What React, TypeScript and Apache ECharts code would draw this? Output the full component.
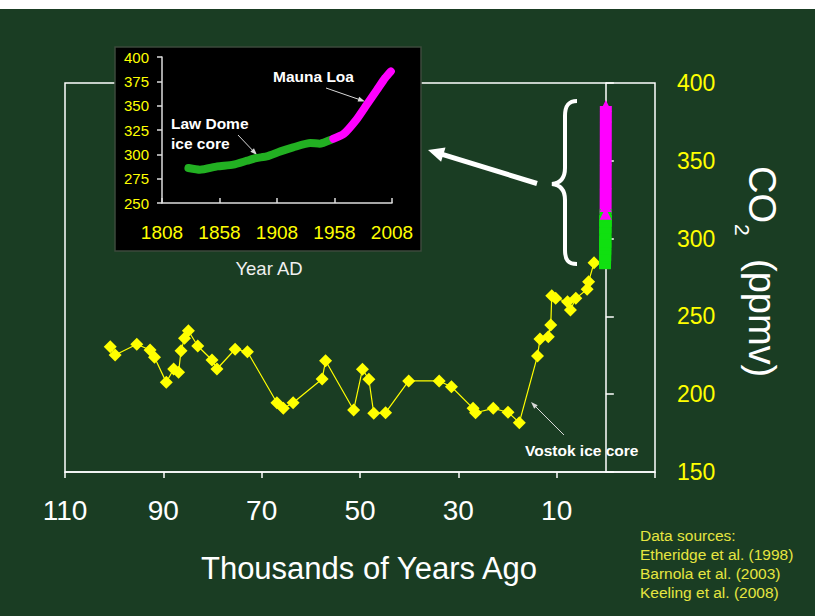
import React, { useEffect, useRef } from "react";
import * as echarts from "echarts";

// ---- Data ----
// Vostok ice core: thousands of years ago, CO2 (ppmv)
const vostokAge = [
  100.8, 99.8, 95.4, 92.7, 91.8, 89.4, 87.9, 86.9, 86.4, 85.7, 84.9, 83.0, 80.1, 79.1, 75.4, 72.9,
  66.9, 65.6, 63.6, 57.7, 57.0, 51.3, 49.5, 48.2, 47.2, 44.8, 40.1, 33.9, 31.4, 27.0, 26.5, 22.9,
  19.9, 17.6, 13.9, 13.4, 11.7, 11.2, 11.0, 10.2, 7.8, 7.2, 6.1, 3.8, 3.5, 2.4,
];
const vostokCO2 = [
  230.5, 225.2, 232.1, 228.4, 223.7, 207.6, 216.2, 214.1, 228.0, 235.9, 240.8, 231.0, 222.0, 216.2, 228.9, 227.3,
  194.5, 190.9, 194.5, 209.8, 221.5, 189.8, 216.0, 209.6, 187.7, 188.1, 208.5, 208.5, 204.8, 190.9, 188.1, 190.9,
  188.4, 181.7, 224.6, 235.5, 237.0, 244.5, 263.3, 261.6, 259.4, 254.1, 261.6, 267.4, 272.3, 284.5,
];
// Law Dome ice core (year AD, ppmv)
const lawDomeYear = [1831, 1841, 1856, 1870, 1882, 1890, 1899, 1911, 1922, 1937, 1945, 1955];
const lawDomeCO2 = [286, 284.2, 287.6, 289.4, 293.5, 296.2, 297.9, 303, 307.1, 311.6, 311, 315];
// Mauna Loa (year AD, ppmv)
const maunaLoaYear = [1957, 1966, 1977, 1986, 1995, 2002, 2007];
const maunaLoaCO2 = [316, 321, 335.6, 351, 366.4, 378.4, 385.2];

const dataSources = ["Data sources:", "Etheridge et al. (1998)", "Barnola et al. (2003)", "Keeling et al. (2008)"];

const FONT = "'Liberation Sans', Arial, Helvetica, sans-serif";
const BG = "#1a3d23";
const YELLOW = "#ffff00";

const BRACE_D =
  "M 577 101 C 568 101 565 106 565 116 L 565 168 C 565 178 561 183 552 184 C 561 185 565 190 565 200 L 565 250 C 565 260 568 264 577 264";
echarts.graphic.registerShape("brace", echarts.graphic.extendPath(BRACE_D, {}));

const ageFromYear = (y: number) => (2008 - y) / 1000;

function arrow(x1: number, y1: number, x2: number, y2: number, lw: number, hl: number, hw: number, color: string, z: number) {
  const dx = x2 - x1;
  const dy = y2 - y1;
  const L = Math.hypot(dx, dy);
  const ux = dx / L;
  const uy = dy / L;
  const bx = x2 - ux * hl;
  const by = y2 - uy * hl;
  const px = -uy;
  const py = ux;
  return [
    { type: "line", z, shape: { x1, y1, x2: bx + ux, y2: by + uy }, style: { stroke: color, lineWidth: lw } },
    {
      type: "polygon",
      z,
      shape: { points: [[x2, y2], [bx + (px * hw) / 2, by + (py * hw) / 2], [bx - (px * hw) / 2, by - (py * hw) / 2]] },
      style: { fill: color },
    },
  ];
}

function txt(text: string, x: number, y: number, size: number, color: string, opts: any = {}) {
  return {
    type: "text",
    x,
    y,
    z: opts.z ?? 11,
    style: {
      text,
      fill: color,
      fontSize: size,
      fontFamily: FONT,
      fontWeight: opts.bold ? "bold" : "normal",
      align: opts.align ?? "left",
      verticalAlign: "middle",
    },
  };
}

export default function App() {
  const ref = useRef<HTMLDivElement>(null);
  useEffect(() => {
    const chart = echarts.init(ref.current as HTMLDivElement, null, { renderer: "svg" });

    const vostok = vostokAge.map((a, i) => [a, vostokCO2[i]]);
    const lawMain = lawDomeYear.map((y, i) => [ageFromYear(y), lawDomeCO2[i]]);
    const maunaMain = maunaLoaYear.map((y, i) => [ageFromYear(y), maunaLoaCO2[i]]);
    const lawInset = lawDomeYear.map((y, i) => [y, lawDomeCO2[i]]);
    const maunaInset = maunaLoaYear.map((y, i) => [y, maunaLoaCO2[i]]);

    const elements: any[] = [
      { type: "rect", z: 5, shape: { x: 115, y: 47, width: 306, height: 204 }, style: { fill: "#000", stroke: "#3c4a3c", lineWidth: 1.5 } },
      txt("Year AD", 269, 268.5, 18.5, "#f0f0f0", { align: "center" }),
      txt("Mauna Loa", 273, 76, 15.5, "#ffffff", { bold: true }),
      txt("Law Dome", 171, 123, 15.5, "#ffffff", { bold: true }),
      txt("ice core", 171, 143, 15.5, "#ffffff", { bold: true }),
      ...arrow(326, 88, 365, 101.5, 1, 7, 5, "#d8d8d8", 11),
      ...arrow(238, 135, 257, 155, 1, 7, 5, "#d8d8d8", 11),
      ...arrow(537, 183.5, 428, 150, 5, 16, 15, "#ffffff", 6),
      { type: "brace", z: 6, x: 0, y: 0, style: { stroke: "#ffffff", lineWidth: 4, fill: "none" } },
      txt("Vostok ice core", 525, 450, 15.5, "#ffffff", { bold: true }),
      ...arrow(564, 435, 531, 402, 1, 7, 5, "#d8d8d8", 11),
      ...dataSources.map((s, i) => txt(s, 640, 535 + i * 19, 15.5, "#e6e640")),
      txt("Thousands of Years Ago", 369, 568, 31, "#ffffff", { align: "center" }),
      {
        type: "group",
        x: 762,
        y: 166,
        rotation: -Math.PI / 2,
        z: 11,
        children: [
          { type: "text", x: 0, y: 0, style: { text: "CO", fill: "#fff", fontSize: 38, fontFamily: FONT, align: "left", verticalAlign: "middle" } },
          { type: "text", x: 58, y: 20, style: { text: "2", fill: "#fff", fontSize: 21, fontFamily: FONT, align: "left", verticalAlign: "middle" } },
          { type: "text", x: 93, y: 0, style: { text: "(ppmv)", fill: "#fff", fontSize: 38, fontFamily: FONT, align: "left", verticalAlign: "middle" } },
        ],
      },
    ];

    const option: any = {
      animation: false,
      backgroundColor: "transparent",
      grid: [
        { left: 65, top: 83, width: 590, height: 389, show: true, borderColor: "#ffffff", borderWidth: 1.5, backgroundColor: "transparent" },
        { left: 162, top: 57, width: 230, height: 146, show: false, z: 10 },
      ],
      xAxis: [
        {
          gridIndex: 0,
          type: "value",
          inverse: true,
          min: -10,
          max: 110,
          interval: 20,
          axisLine: { show: true, lineStyle: { color: "#ffffff", width: 1.5 } },
          axisTick: { show: true, length: 6, lineStyle: { color: "#ffffff", width: 1.5 } },
          axisLabel: { color: "#ffffff", fontSize: 28, fontFamily: FONT, margin: 24, formatter: (v: number) => (v < 0 ? "" : String(v)) },
          splitLine: { show: false },
        },
        {
          gridIndex: 1,
          type: "value",
          min: 1808,
          max: 2008,
          interval: 50,
          z: 10,
          axisLine: { show: true, lineStyle: { color: "#dddddd", width: 1.5 } },
          axisTick: { show: true, inside: true, length: 5, lineStyle: { color: "#dddddd", width: 1.5 } },
          axisLabel: { color: YELLOW, fontSize: 19, fontFamily: FONT, margin: 20, formatter: (v: number) => String(v) },
          splitLine: { show: false },
        },
      ],
      yAxis: [
        {
          gridIndex: 0,
          type: "value",
          position: "right",
          min: 150,
          max: 400,
          interval: 50,
          axisLine: { show: true, lineStyle: { color: "#ffffff", width: 1.5 } },
          axisTick: { show: true, length: 8, lineStyle: { color: "#ffffff", width: 1.5 } },
          axisLabel: { color: YELLOW, fontSize: 23, fontFamily: FONT, margin: 22 },
          splitLine: { show: false },
        },
        {
          gridIndex: 1,
          type: "value",
          min: 250,
          max: 400,
          interval: 25,
          z: 10,
          axisLine: { show: true, lineStyle: { color: "#dddddd", width: 1.5 } },
          axisTick: { show: true, length: 5, lineStyle: { color: "#dddddd", width: 1.5 } },
          axisLabel: { color: YELLOW, fontSize: 15, fontFamily: FONT, margin: 13 },
          splitLine: { show: false },
        },
      ],
      series: [
        {
          name: "Vostok ice core",
          type: "line",
          xAxisIndex: 0,
          yAxisIndex: 0,
          data: vostok,
          symbol: "diamond",
          symbolSize: 13,
          showSymbol: true,
          lineStyle: { color: YELLOW, width: 1.2 },
          itemStyle: { color: YELLOW },
          z: 3,
        },
        {
          name: "Law Dome (main)",
          type: "line",
          xAxisIndex: 0,
          yAxisIndex: 0,
          data: lawMain,
          symbol: "rect",
          symbolSize: 12,
          lineStyle: { color: "#10e010", width: 12 },
          itemStyle: { color: "#10e010" },
          z: 4,
        },
        {
          name: "Mauna Loa (main)",
          type: "line",
          xAxisIndex: 0,
          yAxisIndex: 0,
          data: maunaMain,
          symbol: "triangle",
          symbolSize: 12,
          lineStyle: { color: "#ff00ff", width: 12 },
          itemStyle: { color: "#ff00ff" },
          z: 4,
        },
        {
          name: "Law Dome",
          type: "line",
          xAxisIndex: 1,
          yAxisIndex: 1,
          data: lawInset,
          symbol: "none",
          smooth: 0.2,
          lineStyle: { color: "#22b022", width: 8, cap: "round", join: "round" },
          z: 12,
        },
        {
          name: "Mauna Loa",
          type: "line",
          xAxisIndex: 1,
          yAxisIndex: 1,
          data: maunaInset,
          symbol: "none",
          smooth: 0.2,
          lineStyle: { color: "#ff00ff", width: 8, cap: "round", join: "round" },
          z: 12,
        },
      ],
      graphic: { elements },
    };

    chart.setOption(option);
    return () => chart.dispose();
  }, []);

  return (
    <div
      ref={ref}
      style={{
        position: "absolute",
        left: 0,
        top: 0,
        width: 815,
        height: 616,
        background: `linear-gradient(#ffffff 0px, #ffffff 9px, ${BG} 9px)`,
      }}
    />
  );
}
